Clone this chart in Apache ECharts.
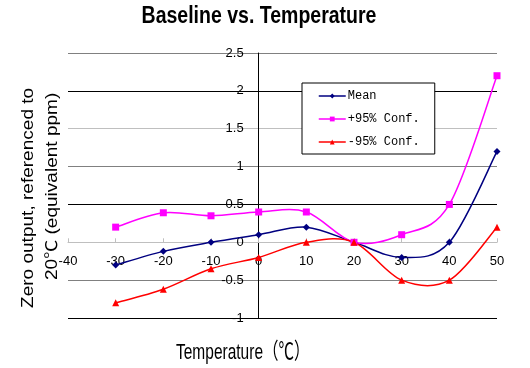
<!DOCTYPE html>
<html>
<head>
<meta charset="utf-8">
<script src="https://cdn.jsdelivr.net/npm/echarts@6/dist/echarts.min.js"></script>
<style>
html,body{margin:0;padding:0;background:#fff;}
#c{width:530px;height:368px;}
</style>
</head>
<body>
<div id="c"></div>
<script>
var temps = [-30, -20, -10, 0, 10, 20, 30, 40, 50];
var meanVals = [-0.3, -0.12, 0, 0.1, 0.2, 0, -0.2, 0, 1.2];
var plusVals = [0.2, 0.39, 0.35, 0.4, 0.4, 0, 0.1, 0.5, 2.2];
var minusVals = [-0.8, -0.62, -0.35, -0.2, 0, 0, -0.5, -0.5, 0.2];
var seriesNames = ['Mean', '+95% Conf.', '-95% Conf.'];
var seriesColors = ['#000080', '#ff00ff', '#ff0000'];
var seriesSymbols = ['diamond', 'rect', 'triangle'];
var chartTitle = 'Baseline vs. Temperature';
var xTitle = 'Temperature\uff08\u2103\uff09';
var yTitle1 = 'Zero output, referenced to';
var yTitle2 = '20\u2103 (equivalent ppm)';
var xMin = -40, xMax = 50, yMin = -1, yMax = 2.5;

function pairs(vals) {
  return temps.map(function (t, i) { return [t, vals[i]]; });
}

var gridLeft = 68, gridRight = 33, gridTop = 53, gridBottom = 50;
var W = 530, H = 368;
var plotW = W - gridLeft - gridRight, plotH = H - gridTop - gridBottom;
// shift axes so they cross at the origin (as in the reference)
var yAxisOffset = -plotW * (0 - xMin) / (xMax - xMin);
var xAxisOffset = -plotH * (0 - yMin) / (yMax - yMin);

var chart = echarts.init(document.getElementById('c'), null, {renderer: 'canvas'});
var font = 'Liberation Sans, Arial, sans-serif';
var titleFontFamily = 'Liberation Sans, Noto Sans CJK SC, sans-serif';

// Excel-like (Catmull-Rom) smoothed curve, drawn segment by segment through the axis scales
function curveSeries(vals, color) {
  var data = pairs(vals);
  var n = data.length;
  return {
    type: 'custom', name: '_curve', silent: true, z: 2,
    data: data,
    renderItem: function (params, api) {
      var i = params.dataIndex;
      if (i >= n - 1) return null;
      function pt(j) { j = Math.max(0, Math.min(n - 1, j)); return api.coord(data[j]); }
      var p0 = pt(i - 1), p1 = pt(i), p2 = pt(i + 1), p3 = pt(i + 2);
      return {
        type: 'bezierCurve',
        shape: {
          x1: p1[0], y1: p1[1], x2: p2[0], y2: p2[1],
          cpx1: p1[0] + (p2[0] - p0[0]) / 6, cpy1: p1[1] + (p2[1] - p0[1]) / 6,
          cpx2: p2[0] - (p3[0] - p1[0]) / 6, cpy2: p2[1] - (p3[1] - p1[1]) / 6
        },
        style: {stroke: color, fill: 'none', lineWidth: 1.5}
      };
    }
  };
}

function markerSeries(idx, vals) {
  return {
    name: seriesNames[idx], type: 'line', data: pairs(vals),
    symbol: seriesSymbols[idx], symbolSize: 7,
    lineStyle: {color: seriesColors[idx], width: 1.5, opacity: 0},
    itemStyle: {color: seriesColors[idx]}, z: 3
  };
}

var option = {
  animation: false,
  backgroundColor: '#fff',
  grid: {left: gridLeft, right: gridRight, top: gridTop, bottom: gridBottom, containLabel: false},
  xAxis: {
    type: 'value', min: xMin, max: xMax, interval: 10, position: 'bottom', offset: xAxisOffset,
    axisLine: {onZero: false, lineStyle: {color: '#bfbfbf', width: 1}},
    axisTick: {show: true, inside: true, length: 4, lineStyle: {color: '#bfbfbf'}},
    axisLabel: {margin: 13, color: '#000', fontSize: 13, fontFamily: font},
    splitLine: {show: false}
  },
  yAxis: {
    type: 'value', min: yMin, max: yMax, interval: 0.5, position: 'left', offset: yAxisOffset,
    axisLine: {show: true, onZero: false, lineStyle: {color: '#000', width: 1}},
    axisTick: {show: false},
    axisLabel: {margin: 15, color: '#000', fontSize: 13, fontFamily: font},
    splitLine: {show: true, lineStyle: {color: ['#000', '#808080', '#bfbfbf'], width: 1}}
  },
  legend: {
    orient: 'vertical', left: 302, top: 83,
    itemWidth: 27, itemHeight: 6, itemGap: 11,
    padding: [7, 15, 6, 16],
    backgroundColor: '#fff', borderColor: '#000', borderWidth: 1, borderRadius: 0,
    lineStyle: {opacity: 1, width: 1.5},
    textStyle: {fontFamily: 'Liberation Mono, monospace', fontSize: 12, color: '#000', padding: [0, 0, 0, -3]},
    data: seriesNames
  },
  graphic: [
    {type: 'text', x: 259, y: 17, scaleY: 1.18, style: {x: 0, y: 0, text: chartTitle, fill: '#000',
      font: 'bold 19.5px Liberation Sans, Arial, sans-serif', textAlign: 'center', textVerticalAlign: 'middle'}},
    {type: 'text', x: 176, y: 353, scaleY: 1.45, style: {x: 0, y: 0, text: xTitle, fill: '#000',
      font: '15.5px ' + titleFontFamily, textAlign: 'left', textVerticalAlign: 'middle'}},
    {type: 'text', x: 29, y: 308, rotation: Math.PI / 2, scaleX: 1.19, style: {x: 0, y: 0, text: yTitle1, fill: '#000',
      font: '16px ' + titleFontFamily, textAlign: 'left', textVerticalAlign: 'middle'}},
    {type: 'text', x: 53, y: 280, rotation: Math.PI / 2, scaleX: 1.19, style: {x: 0, y: 0, text: yTitle2, fill: '#000',
      font: '16px ' + titleFontFamily, textAlign: 'left', textVerticalAlign: 'middle'}}
  ],
  series: [
    markerSeries(0, meanVals),
    markerSeries(1, plusVals),
    markerSeries(2, minusVals),
    curveSeries(meanVals, seriesColors[0]),
    curveSeries(plusVals, seriesColors[1]),
    curveSeries(minusVals, seriesColors[2])
  ]
};
chart.setOption(option);
</script>
</body>
</html>
